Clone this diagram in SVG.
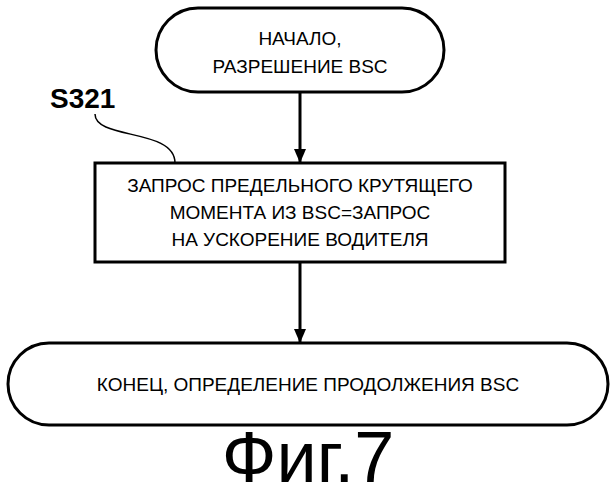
<svg xmlns="http://www.w3.org/2000/svg" width="616" height="500" viewBox="0 0 616 500">
<style>
.s{fill:#fff;stroke:#000;stroke-width:3}
.t{font-family:"Liberation Sans",Arial,sans-serif;font-size:19px;text-anchor:middle;fill:#000}
.c{fill:none;stroke:#000;stroke-width:3}
</style>
<defs><marker id="a" markerWidth="14" markerHeight="12" refX="14" refY="6" orient="auto" markerUnits="userSpaceOnUse" viewBox="0 0 14 12"><path d="M0,0L14,6L0,12z" fill="#000"/></marker></defs>
<rect width="616" height="500" fill="#fff"/>
<g id="start"><rect class="s" x="156" y="8" width="288" height="84" rx="42"/>
<text class="t" x="300" y="45">НАЧАЛО,</text><text class="t" x="300" y="73">РАЗРЕШЕНИЕ BSC</text></g>
<g id="s321"><rect class="s" x="95" y="163" width="410" height="99"/>
<text class="t" x="300" y="192">ЗАПРОС ПРЕДЕЛЬНОГО КРУТЯЩЕГО</text>
<text class="t" x="300" y="219">МОМЕНТА ИЗ BSC=ЗАПРОС</text>
<text class="t" x="300" y="246">НА УСКОРЕНИЕ ВОДИТЕЛЯ</text></g>
<g id="end"><rect class="s" x="8" y="343" width="600" height="82" rx="41"/>
<text class="t" x="308" y="391">КОНЕЦ, ОПРЕДЕЛЕНИЕ ПРОДОЛЖЕНИЯ BSC</text></g>
<g id="label"><text x="50" y="108" style="font-family:'Liberation Sans',Arial,sans-serif;font-size:28px;font-weight:bold">S321</text>
<path d="M95,114 C95,140 175,128 175,163" fill="none" stroke="#000" stroke-width="1.5"/></g>
<g id="connectors">
<line class="c" x1="300" y1="92" x2="300" y2="163" marker-end="url(#a)"/>
<line class="c" x1="300" y1="262" x2="300" y2="343" marker-end="url(#a)"/>
</g>
<text x="308" y="482" style="font-family:'Liberation Sans',Arial,sans-serif;font-size:72px;text-anchor:middle">Фиг.7</text>
</svg>
